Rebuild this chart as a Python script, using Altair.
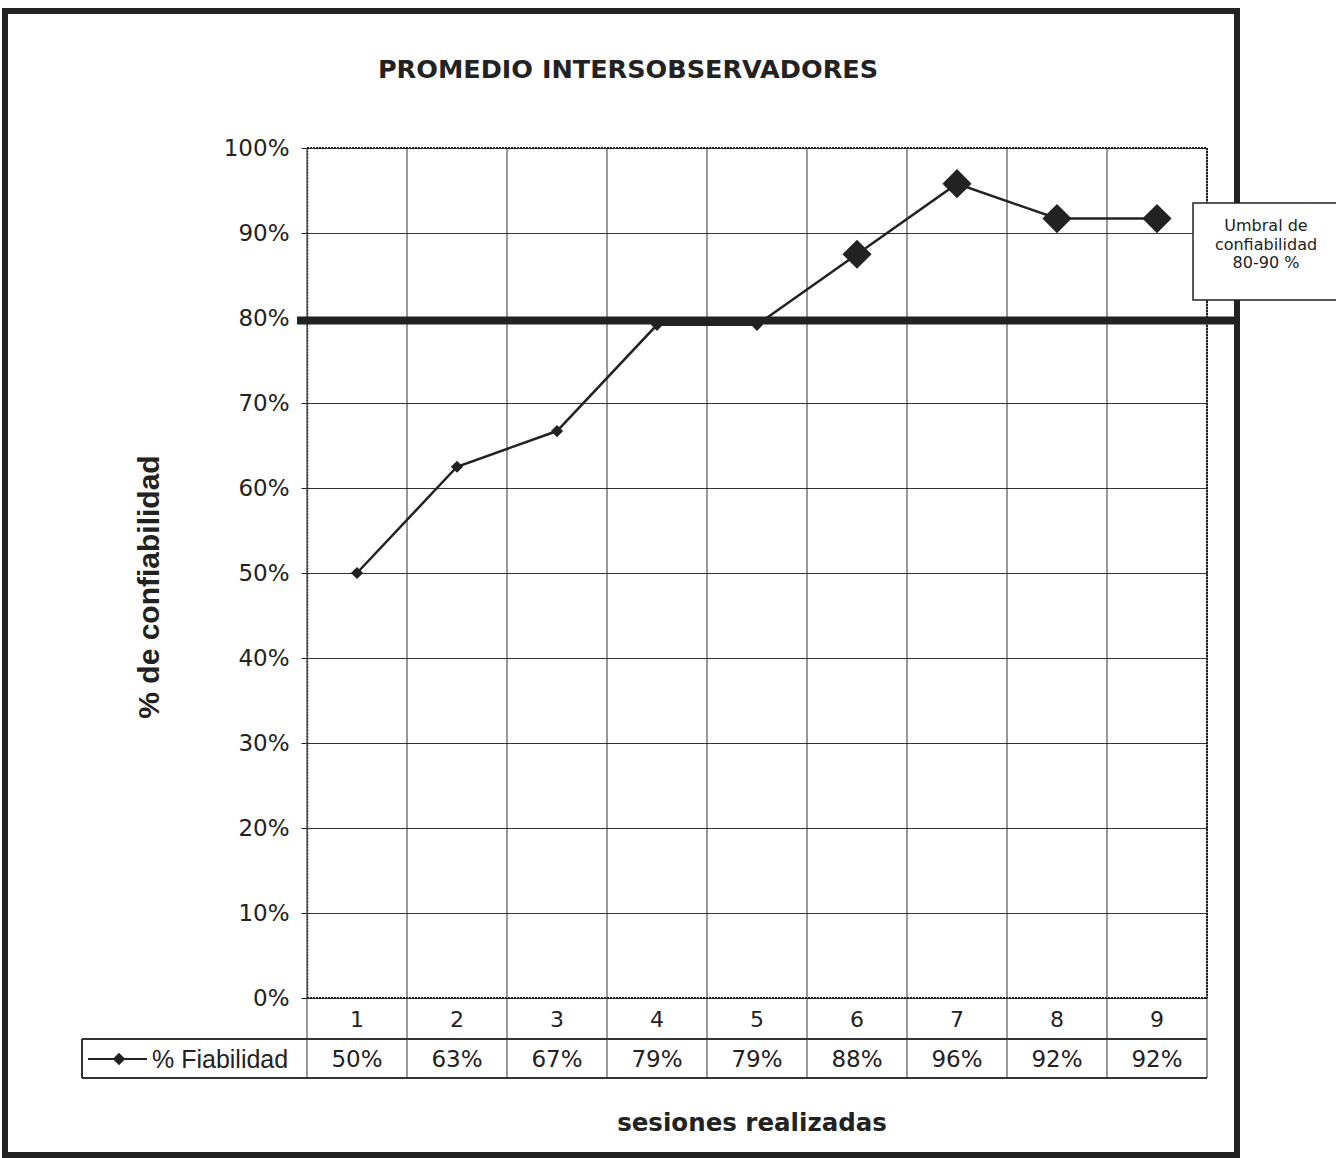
import altair as alt
import pandas as pd

sesiones = [1, 2, 3, 4, 5, 6, 7, 8, 9]
fiabilidad = [50.0, 62.5, 66.7, 79.2, 79.2, 87.5, 95.8, 91.7, 91.7]
etiquetas = ["50%", "63%", "67%", "79%", "79%", "88%", "96%", "92%", "92%"]
umbral = [79.7]
titulo = "PROMEDIO INTERSOBSERVADORES"
titulo_y = "% de confiabilidad"
titulo_x = "sesiones realizadas"
serie = "% Fiabilidad"
nota = ["Umbral de", "confiabilidad", "80-90 %"]

df = pd.DataFrame({"sesion": sesiones, "valor": fiabilidad, "etiqueta": etiquetas})
bordes = pd.DataFrame({"b": [s - 0.5 for s in sesiones] + [sesiones[-1] + 0.5]})

W, H = 900, 850
INK = "#222222"
GRID = "#333333"
VERD = "DejaVu Sans"
ARIAL = "Liberation Sans"

xs = alt.Scale(domain=[0.5, 9.5], nice=False, zero=False)
ys = alt.Scale(domain=[0, 100], nice=False)

Y_AXIS = alt.Axis(
    values=list(range(0, 101, 10)), labelExpr="datum.value + '%'",
    grid=True, gridColor=GRID, gridWidth=1, title="",
    domain=True, domainColor=INK, domainDash=[2, 1], domainWidth=1.5,
    tickColor=INK, tickSize=6, labelPadding=12,
    labelFont=VERD, labelFontSize=23, labelColor=INK,
)

X_main = alt.X("sesion:Q", scale=xs, axis=None)
Y_main = alt.Y("valor:Q", scale=ys, axis=Y_AXIS)

grid_x = alt.Chart(bordes).mark_rule(color=GRID, strokeWidth=1).encode(
    x=alt.X("b:Q", scale=xs, axis=None),
    y=alt.value(0), y2=alt.value(H),
)

frame_top = alt.Chart(df).mark_rule(color=INK, strokeDash=[2, 1], strokeWidth=1.5).encode(
    x=alt.value(0), x2=alt.value(W), y=alt.value(0))
frame_right = alt.Chart(df).mark_rule(color=INK, strokeDash=[2, 1], strokeWidth=1.5).encode(
    x=alt.value(W), y=alt.value(0), y2=alt.value(H))
frame_bottom = alt.Chart(df).mark_rule(color=INK, strokeDash=[2, 1], strokeWidth=1.5).encode(
    x=alt.value(0), x2=alt.value(W), y=alt.value(H))

umbral_df = pd.DataFrame({"valor": umbral})
threshold = alt.Chart(umbral_df).mark_rule(color=INK, strokeWidth=8).encode(
    y=Y_main, x=alt.value(-10), x2=alt.value(933))

line = alt.Chart(df).mark_line(color=INK, strokeWidth=2.5).encode(x=X_main, y=Y_main)
pts_small = alt.Chart(df).transform_filter("datum.sesion < 6").mark_point(
    shape="diamond", filled=True, color=INK, opacity=1, size=150).encode(x=X_main, y=Y_main)
pts_big = alt.Chart(df).transform_filter("datum.sesion >= 6").mark_point(
    shape="diamond", filled=True, color=INK, opacity=1, size=850).encode(x=X_main, y=Y_main)

row1_top, row2_top, row2_bot = H, H + 41, H + 80
table_v = alt.Chart(bordes).mark_rule(color=GRID, strokeWidth=1).encode(
    x=alt.X("b:Q", scale=xs, axis=None), y=alt.value(row1_top), y2=alt.value(row2_bot))
table_h1 = alt.Chart(df).mark_rule(color=GRID, strokeWidth=1).encode(
    x=alt.value(-225), x2=alt.value(W), y=alt.value(row2_top))
table_h2 = alt.Chart(df).mark_rule(color=GRID, strokeWidth=1).encode(
    x=alt.value(-225), x2=alt.value(W), y=alt.value(row2_bot))
table_left = alt.Chart(df).mark_rule(color=GRID, strokeWidth=1).encode(
    x=alt.value(-225), y=alt.value(row2_top), y2=alt.value(row2_bot))
cat_text = alt.Chart(df).mark_text(font=VERD, fontSize=22, color=INK).encode(
    x=X_main, y=alt.value(row1_top + 22), text="sesion:N")
val_text = alt.Chart(df).mark_text(font=VERD, fontSize=23, color=INK).encode(
    x=X_main, y=alt.value(row2_top + 21), text="etiqueta:N")

leg_df = pd.DataFrame({"s": [serie]})
leg_line = alt.Chart(leg_df).mark_rule(color=INK, strokeWidth=2).encode(
    x=alt.value(-219), x2=alt.value(-160), y=alt.value(row2_top + 20))
leg_pt = alt.Chart(leg_df).mark_point(shape="diamond", filled=True, color=INK, opacity=1, size=160).encode(
    x=alt.value(-188), y=alt.value(row2_top + 20))
leg_txt = alt.Chart(leg_df).mark_text(font=ARIAL, fontSize=25, color=INK, align="left", baseline="middle").encode(
    x=alt.value(-155), y=alt.value(row2_top + 21), text="s:N")

t_df = pd.DataFrame({"t": [titulo], "x": [titulo_x], "y": [titulo_y]})
title = alt.Chart(t_df).mark_text(font=VERD, fontSize=25.5, fontWeight="bold", color=INK).encode(
    x=alt.value(321), y=alt.value(-78), text="t:N")
xtitle = alt.Chart(t_df).mark_text(font=VERD, fontSize=24.5, fontWeight="bold", color=INK).encode(
    x=alt.value(445), y=alt.value(976), text="x:N")
ytitle = alt.Chart(t_df).mark_text(font=ARIAL, fontSize=30, fontWeight="bold", color=INK, angle=270).encode(
    x=alt.value(-157), y=alt.value(439), text="y:N")

outer = alt.Chart(t_df).mark_rect(fill="transparent", stroke=INK, strokeWidth=6).encode(
    x=alt.value(-302), x2=alt.value(930), y=alt.value(-137), y2=alt.value(1007))

box = alt.Chart(t_df).mark_rect(fill="white", stroke=INK, strokeWidth=1.5).encode(
    x=alt.value(886), x2=alt.value(1040), y=alt.value(55), y2=alt.value(152))
nota_layers = [
    alt.Chart(pd.DataFrame({"n": [txt]})).mark_text(font=VERD, fontSize=16, color=INK).encode(
        x=alt.value(959), y=alt.value(78 + 18.5 * i), text="n:N")
    for i, txt in enumerate(nota)
]

chart = alt.layer(
    grid_x, frame_top, frame_right, frame_bottom,
    table_v, table_h1, table_h2, table_left, cat_text, val_text,
    leg_line, leg_pt, leg_txt,
    line, pts_small, pts_big, threshold,
    title, xtitle, ytitle, outer,
    box, *nota_layers,
).properties(
    width=W, height=H,
    autosize=alt.AutoSizeParams(type="none"),
    padding={"left": 307, "top": 148, "right": 129, "bottom": 160},
    background="white",
).configure_view(strokeWidth=0)

chart.save("out.html", embed_options={"renderer": "svg", "actions": False})
